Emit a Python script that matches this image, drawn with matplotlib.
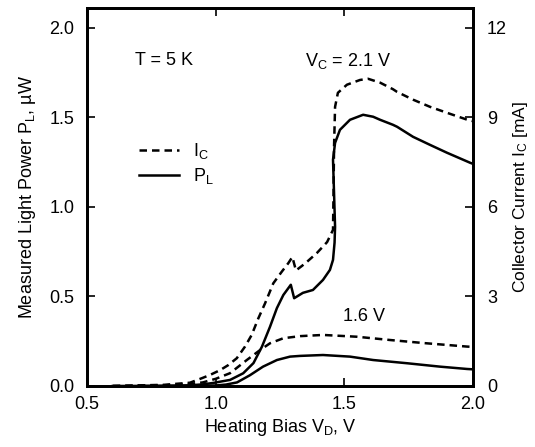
import matplotlib
matplotlib.use("Agg")
import matplotlib.pyplot as plt

plt.rcParams['font.family'] = ['Liberation Sans', 'DejaVu Sans']
plt.rcParams['mathtext.default'] = 'regular'

# ---- data ----
# Collector current, V_C = 2.1 V  (mA)
ic21_x = [0.60, 0.70, 0.80, 0.90, 0.946, 0.978, 1.017, 1.049, 1.082, 1.114, 1.14, 1.166,
          1.192, 1.224, 1.257, 1.282, 1.298, 1.312, 1.335, 1.355, 1.394, 1.433, 1.456,
          1.458, 1.460, 1.464, 1.475, 1.51, 1.561, 1.592, 1.639, 1.689, 1.705, 1.767,
          1.833, 1.899, 1.977, 2.0]
ic21_y = [0.0, 0.02, 0.04, 0.11, 0.26, 0.37, 0.53, 0.70, 0.93, 1.32, 1.71, 2.27,
          2.77, 3.44, 3.83, 4.11, 4.32, 3.87, 4.02, 4.16, 4.46, 4.82, 5.23,
          6.47, 8.01, 9.35, 9.82, 10.09, 10.25, 10.29, 10.16, 9.94, 9.85, 9.59,
          9.35, 9.15, 8.92, 8.87]

# Light power, V_C = 2.1 V  (uW)
pl21_x = [0.60, 0.80, 0.90, 0.95, 0.99, 1.056, 1.107, 1.147, 1.18, 1.211, 1.238, 1.263,
          1.292, 1.305, 1.339, 1.378, 1.417, 1.444, 1.456, 1.462, 1.464, 1.460, 1.456,
          1.464, 1.483, 1.522, 1.573, 1.612, 1.639, 1.689, 1.705, 1.767, 1.833, 1.899,
          1.989, 2.0]
pl21_y = [0.0, 0.001, 0.004, 0.009, 0.017, 0.034, 0.071, 0.128, 0.22, 0.33, 0.435, 0.508,
          0.565, 0.49, 0.52, 0.536, 0.592, 0.648, 0.704, 0.80, 0.888, 1.078, 1.263,
          1.357, 1.43, 1.486, 1.514, 1.503, 1.486, 1.458, 1.447, 1.391, 1.346, 1.302,
          1.246, 1.24]

# Collector current, V_C = 1.6 V  (mA)
ic16_x = [0.60, 0.80, 0.90, 0.95, 1.0, 1.056, 1.121, 1.172, 1.211, 1.263, 1.328, 1.417,
          1.549, 1.678, 1.806, 1.977, 2.0]
ic16_y = [0.0, 0.02, 0.07, 0.12, 0.24, 0.43, 0.87, 1.20, 1.43, 1.60, 1.67, 1.71,
          1.65, 1.54, 1.44, 1.32, 1.31]

# Light power, V_C = 1.6 V  (uW)
pl16_x = [0.70, 0.90, 1.0, 1.04, 1.083, 1.133, 1.184, 1.238, 1.289, 1.328, 1.417, 1.522,
          1.612, 1.744, 1.872, 1.977, 2.0]
pl16_y = [0.0, 0.001, 0.003, 0.008, 0.02, 0.06, 0.108, 0.145, 0.164, 0.168, 0.173, 0.164,
          0.145, 0.127, 0.108, 0.095, 0.093]

x_ticks = [0.5, 1.0, 1.5, 2.0]
yl_ticks = [0.0, 0.5, 1.0, 1.5, 2.0]
yr_ticks = [0, 3, 6, 9, 12]

# ---- figure ----
fig = plt.figure(figsize=(5.35, 4.47), dpi=100)
ax = fig.add_axes([87/535, 61/447, 386/535, 378/447])
ax2 = ax.twinx()

FS = 13
LW = 1.8
dash = (0, (3.0, 2.0))

l_pl, = ax.plot(pl21_x, pl21_y, color='black', lw=LW, solid_joinstyle='round')
ax.plot(pl16_x, pl16_y, color='black', lw=LW)
l_ic, = ax2.plot(ic21_x, ic21_y, color='black', lw=LW, linestyle=dash)
ax2.plot(ic16_x, ic16_y, color='black', lw=LW, linestyle=dash)

ax.set_xlim(0.5, 2.0)
ax.set_ylim(0.0, 2.11)
ax2.set_ylim(0.0, 2.11 * 6)

ax.set_xticks(x_ticks)
ax.set_xticklabels([f"{v:.1f}" for v in x_ticks])
ax.set_yticks(yl_ticks)
ax.set_yticklabels([f"{v:.1f}" for v in yl_ticks])
ax2.set_yticks(yr_ticks)
ax2.set_yticklabels([str(v) for v in yr_ticks])

ax.tick_params(axis='x', direction='in', length=6, width=1.2, labelsize=FS, top=True, pad=7)
ax.tick_params(axis='y', direction='in', length=6, width=1.2, labelsize=FS, right=False, pad=9)
ax2.tick_params(axis='y', direction='in', length=6, width=1.2, labelsize=FS, pad=10)
for a in (ax, ax2):
    for s in a.spines.values():
        s.set_linewidth(2.0)

ax.set_xlabel("Heating Bias V$_D$, V", fontsize=FS, labelpad=3)
ax.set_ylabel("Measured Light Power P$_L$, \u00b5W", fontsize=FS, labelpad=8)
ax2.set_ylabel("Collector Current I$_C$ [mA]", fontsize=FS - 0.5, labelpad=3)

ax.text(0.687, 1.816, "T = 5 K", fontsize=FS, ha='left', va='center')
ax.text(1.347, 1.816, "V$_C$ = 2.1 V", fontsize=FS, ha='left', va='center')
ax.text(1.495, 0.39, "1.6 V", fontsize=FS, ha='left', va='center')

ax.legend([l_ic, l_pl], ["I$_C$", "P$_L$"], loc='upper left',
          bbox_to_anchor=(0.135, 0.648), frameon=False, fontsize=FS,
          handlelength=2.2, handletextpad=0.8, labelspacing=0.3,
          borderpad=0, borderaxespad=0)

fig.savefig("out.png", dpi=100)
